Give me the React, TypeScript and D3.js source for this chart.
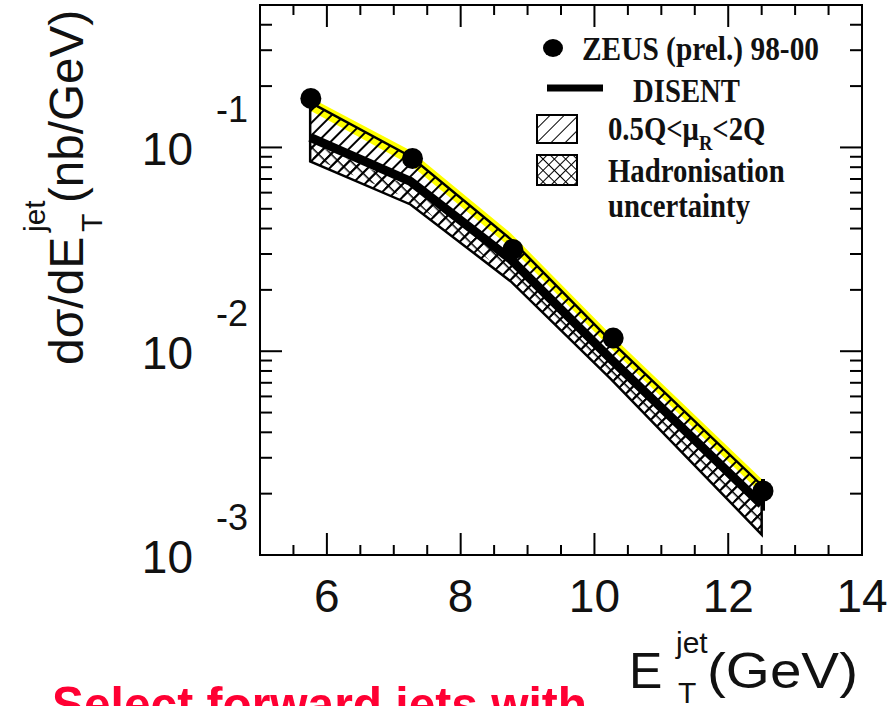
import React from "react";
import * as d3 from "d3";

// ---------- data ----------
const theoryX = [5.75, 7.25, 8.75, 10.25, 12.5];
const disent = [0.1119, 0.0681, 0.0282, 0.00912, 0.00177];
const scaleUp = [0.1663, 0.0903, 0.0354, 0.01117, 0.0022];
const scaleDown = [0.0854, 0.0525, 0.022, 0.00728, 0.00126];
const yellowUp = [0.176, 0.0965, 0.0379, 0.012, 0.00236];
const yellowDown = [0.152, 0.082, 0.0322, 0.0103, 0.002];
const hadUp = [0.106, 0.064, 0.0266, 0.0086, 0.00166];
const hadDown = [0.09, 0.0555, 0.0232, 0.0076, 0.00134];

const dataX = [5.76, 7.28, 8.78, 10.28, 12.52];
const dataY = [0.174, 0.0883, 0.0316, 0.0116, 0.00206];
const dataErrUp = [0.18, 0.091, 0.0326, 0.012, 0.00236];
const dataErrDown = [0.168, 0.0855, 0.0306, 0.0112, 0.00165];

const xTickLabels = [6, 8, 10, 12, 14];
const xMinorTicks = d3.range(5.5, 14, 0.5);
const yDecades = [1e-3, 1e-2, 1e-1];
const yExpLabels = ["-3", "-2", "-1"];

const legendLabels = ["ZEUS (prel.) 98-00", "DISENT", "Hadronisation", "uncertainty"];

const SANS = "'Liberation Sans', Arial, sans-serif";
const SERIF = "'Liberation Serif', 'Times New Roman', serif";

export default function App() {
  const W = 894, H = 706;
  const L = 260, R = 862, T = 5, B = 555;
  const x = d3.scaleLinear().domain([5, 14]).range([L, R]);
  const y = d3.scaleLog().domain([1e-3, 0.5]).range([B, T]);

  const idx = theoryX.map((_, i) => i);
  const band = (up: number[], down: number[]) =>
    d3.area<number>().x((i) => x(theoryX[i])).y0((i) => y(down[i])).y1((i) => y(up[i]))(idx) || "";
  const line = d3.line<number>().x((i) => x(theoryX[i])).y((i) => y(disent[i]))(idx) || "";

  const yMinor: number[] = [];
  for (const dec of [1e-3, 1e-2, 1e-1]) {
    for (let k = 2; k <= 9; k++) {
      const v = k * dec;
      if (v < 0.5) yMinor.push(v);
    }
  }

  return (
    <svg width={W} height={H} style={{ position: "absolute", left: 0, top: 0, background: "#fff" }}>
      <defs>
        <pattern id="hatch" width="9" height="9" patternUnits="userSpaceOnUse" patternTransform="rotate(45)">
          <line x1="0" y1="0" x2="0" y2="9" stroke="#000" strokeWidth="4" />
        </pattern>
        <pattern id="hatchL" width="10" height="10" patternUnits="userSpaceOnUse" patternTransform="rotate(45)">
          <line x1="0" y1="0" x2="0" y2="10" stroke="#000" strokeWidth="2" />
        </pattern>
        <pattern id="cross" width="8" height="8" patternUnits="userSpaceOnUse" patternTransform="rotate(45)">
          <line x1="0" y1="0" x2="0" y2="8" stroke="#000" strokeWidth="2" />
          <line x1="0" y1="0" x2="8" y2="0" stroke="#000" strokeWidth="2" />
        </pattern>
        <pattern id="crossBand" width="9" height="9" patternUnits="userSpaceOnUse" patternTransform="rotate(45)">
          <line x1="0" y1="0" x2="0" y2="9" stroke="#000" strokeWidth="3" />
          <line x1="0" y1="0" x2="9" y2="0" stroke="#000" strokeWidth="3" />
        </pattern>
        <clipPath id="plot">
          <rect x={L} y={T} width={R - L} height={B - T} />
        </clipPath>
      </defs>
      <rect x={0} y={0} width={W} height={H} fill="#fff" />

      {/* bands */}
      <g clipPath="url(#plot)">
        <path d={band(scaleUp, scaleDown)} fill="#fff" />
        <path d={band(yellowUp, yellowDown)} fill="#ffff00" />
        <path d={band(scaleUp, scaleDown)} fill="url(#hatch)" stroke="#000" strokeWidth={2.5} />
        <path d={band(hadUp, hadDown)} fill="url(#crossBand)" />
        <path d={line} fill="none" stroke="#000" strokeWidth={9} />
        {dataX.map((dx, i) => (
          <g key={i}>
            <line x1={x(dx)} x2={x(dx)} y1={y(dataErrUp[i])} y2={y(dataErrDown[i])} stroke="#000" strokeWidth={4} />
            <ellipse cx={x(dx)} cy={y(dataY[i])} rx={10.5} ry={10.5} fill="#000" />
          </g>
        ))}
      </g>

      {/* frame */}
      <rect x={L} y={T} width={R - L} height={B - T} fill="none" stroke="#000" strokeWidth={2} />

      {/* x ticks */}
      {xMinorTicks.map((v) => {
        const major = Math.abs(v - Math.round(v)) < 1e-6 && Math.round(v) % 2 === 0;
        const len = major ? 22 : 10;
        return (
          <g key={"xt" + v}>
            <line x1={x(v)} x2={x(v)} y1={B} y2={B - len} stroke="#000" strokeWidth={2} />
            <line x1={x(v)} x2={x(v)} y1={T} y2={T + len} stroke="#000" strokeWidth={2} />
          </g>
        );
      })}
      {xTickLabels.map((v) => (
        <text key={"xl" + v} x={x(v)} y={612} textAnchor="middle" fontFamily={SANS} fontSize={46} fill="#111">
          {v}
        </text>
      ))}

      {/* y ticks */}
      {yDecades.map((v) => (
        <g key={"yd" + v}>
          <line x1={L} x2={L + 22} y1={y(v)} y2={y(v)} stroke="#000" strokeWidth={2} />
          <line x1={R} x2={R - 22} y1={y(v)} y2={y(v)} stroke="#000" strokeWidth={2} />
        </g>
      ))}
      {yMinor.map((v) => (
        <g key={"ym" + v}>
          <line x1={L} x2={L + 12} y1={y(v)} y2={y(v)} stroke="#000" strokeWidth={2} />
          <line x1={R} x2={R - 12} y1={y(v)} y2={y(v)} stroke="#000" strokeWidth={2} />
        </g>
      ))}
      {yDecades.map((v, i) => (
        <g key={"yl" + v}>
          <text x={193} y={y(v) + 18} textAnchor="end" fontFamily={SANS} fontSize={46} fill="#111">
            10
          </text>
          <text x={216} y={y(v) - 25} fontFamily={SANS} fontSize={36} fill="#111">
            {yExpLabels[i]}
          </text>
        </g>
      ))}

      {/* y title */}
      <g transform="translate(83,365) rotate(-90)" fontFamily={SANS} fill="#111">
        <text x={0} y={0} fontSize={48}>dσ/dE</text>
        <text x={133} y={-38} fontSize={30}>jet</text>
        <text x={133} y={19} fontSize={30}>T</text>
        <text x={162} y={0} fontSize={48} textLength={193} lengthAdjust="spacingAndGlyphs">(nb/GeV)</text>
      </g>

      {/* x title */}
      <g fontFamily={SANS} fill="#111">
        <text x={629} y={688} fontSize={50}>E</text>
        <text x={676} y={653} fontSize={30}>jet</text>
        <text x={678} y={703} fontSize={30}>T</text>
        <text x={707} y={688} fontSize={50} textLength={151} lengthAdjust="spacingAndGlyphs">(GeV)</text>
      </g>

      {/* legend */}
      <ellipse cx={553} cy={48} rx={10} ry={9} fill="#000" />
      <line x1={547} x2={603} y1={88} y2={88} stroke="#000" strokeWidth={7} />
      <rect x={537} y={115} width={40} height={28} fill="url(#hatchL)" stroke="#000" strokeWidth={2} />
      <rect x={537} y={155} width={40} height={30} fill="url(#cross)" stroke="#000" strokeWidth={2} />
      <g fontFamily={SERIF} fontWeight="bold" fontSize={34} fill="#111">
        <text transform="translate(582,60) scale(0.865,1)">{legendLabels[0]}</text>
        <text transform="translate(633,102) scale(0.845,1)">{legendLabels[1]}</text>
        <text transform="translate(608,140) scale(0.845,1)">
          <tspan>0.5Q&lt;μ</tspan>
          <tspan fontSize={22} dy={10}>R</tspan>
          <tspan dy={-10}>&lt;2Q</tspan>
        </text>
        <text transform="translate(608,182) scale(0.845,1)">{legendLabels[2]}</text>
        <text transform="translate(608,217) scale(0.845,1)">{legendLabels[3]}</text>
      </g>

      {/* red caption */}
      <text x={52} y={722} fontFamily={SANS} fontWeight="bold" fontSize={50} fill="#ff0033" textLength={535} lengthAdjust="spacingAndGlyphs">
        Select forward jets with
      </text>
    </svg>
  );
}
